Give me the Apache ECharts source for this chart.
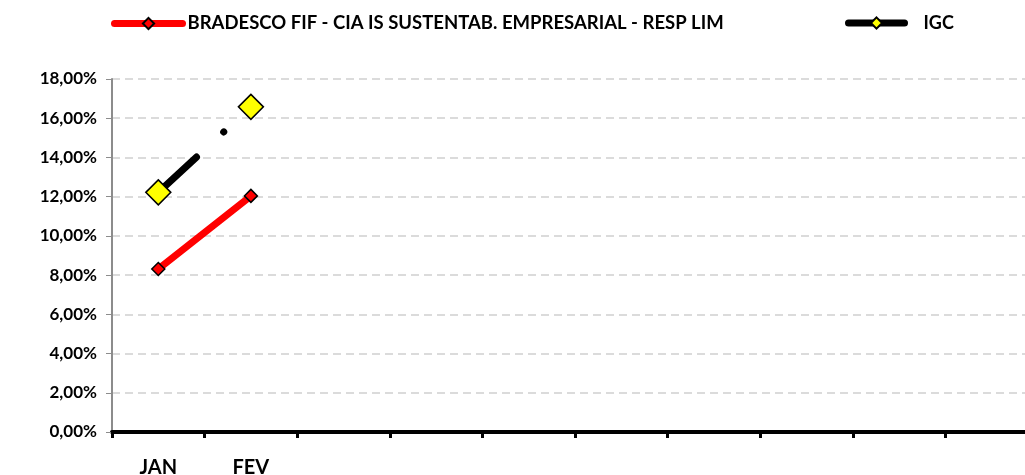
<!DOCTYPE html>
<html>
<head>
<meta charset="utf-8">
<script src="https://cdn.jsdelivr.net/npm/echarts@6/dist/echarts.min.js"></script>
<style>
  html, body { margin: 0; padding: 0; background: #fff; }
  #lineChart { width: 1025px; height: 475px; }
</style>
</head>
<body>
<div id="lineChart"></div>
<script>
// meses do eixo X (só os dois primeiros têm dados)
const months = ['JAN', 'FEV', '', '', '', '', '', '', '', '']
const fundName = 'BRADESCO FIF - CIA IS SUSTENTAB. EMPRESARIAL - RESP LIM'
const indexName = 'IGC'
// rentabilidade acumulada em %
const fundValues = [8.31, 12.04]
const indexValues = [12.22, 16.58]
const yTicks = { min: 0, max: 18, step: 2 }

const fontFamily = 'Lato, "Open Sans", sans-serif'

let myChart = echarts.init(document.getElementById('lineChart'))
myChart.setOption({
  animation: false,
  legend: [
    {
      data: [fundName],
      left: 106,
      top: 9,
      itemWidth: 68,
      itemHeight: 14,
      lineStyle: { type: 'solid', width: 7, cap: 'round' },
      textStyle: { fontFamily: fontFamily, fontWeight: 'bold', fontSize: 18.5, color: '#000' }
    },
    {
      data: [indexName],
      left: 840,
      top: 9,
      itemWidth: 56,
      itemHeight: 14,
      lineStyle: { type: 'solid', width: 7, cap: 'round' },
      textStyle: { fontFamily: fontFamily, fontWeight: 'bold', fontSize: 18, color: '#000', padding: [0, 0, 0, 14] }
    }
  ],
  grid: {
    left: 112,
    top: 79,
    bottom: 43,
    width: 926,
    containLabel: false,
    outerBoundsMode: 'none'
  },
  xAxis: {
    type: 'category',
    boundaryGap: true,
    data: months,
    axisLine: { show: true, lineStyle: { color: '#000', width: 4 } },
    axisTick: { show: true, alignWithLabel: false, length: 6, lineStyle: { color: '#000', width: 3 } },
    axisLabel: {
      margin: 26,
      color: '#000',
      fontFamily: fontFamily,
      fontWeight: 'bold',
      fontSize: 20
    },
    splitLine: { show: false }
  },
  yAxis: {
    type: 'value',
    min: yTicks.min,
    max: yTicks.max,
    interval: yTicks.step,
    axisLine: { show: true, lineStyle: { color: '#8c8c8c', width: 2 } },
    axisTick: { show: true, inside: false, length: 6, lineStyle: { color: '#8c8c8c', width: 1 } },
    axisLabel: {
      margin: 15,
      color: '#000',
      fontFamily: fontFamily,
      fontWeight: 'bold',
      fontSize: 17,
      formatter: v => v.toFixed(2).replace('.', ',') + '%'
    },
    splitLine: { show: true, lineStyle: { color: '#d0d0d0', type: [8, 5], width: 1.5 } }
  },
  series: [
    {
      name: fundName,
      type: 'line',
      data: fundValues,
      symbol: 'diamond',
      symbolSize: 13,
      itemStyle: { color: '#ff0000', borderColor: '#000', borderWidth: 1.5 },
      lineStyle: { color: '#ff0000', width: 7, cap: 'round' },
      z: 3
    },
    {
      name: indexName,
      type: 'line',
      data: indexValues,
      symbol: 'diamond',
      symbolSize: 25,
      itemStyle: { color: '#ffff00', borderColor: '#000', borderWidth: 1.5 },
      // traço longo - ponto, como no original
      lineStyle: { color: '#000', width: 7, cap: 'round', type: [52, 37, 0.1, 40] },
      z: 4
    }
  ]
})
</script>
</body>
</html>
